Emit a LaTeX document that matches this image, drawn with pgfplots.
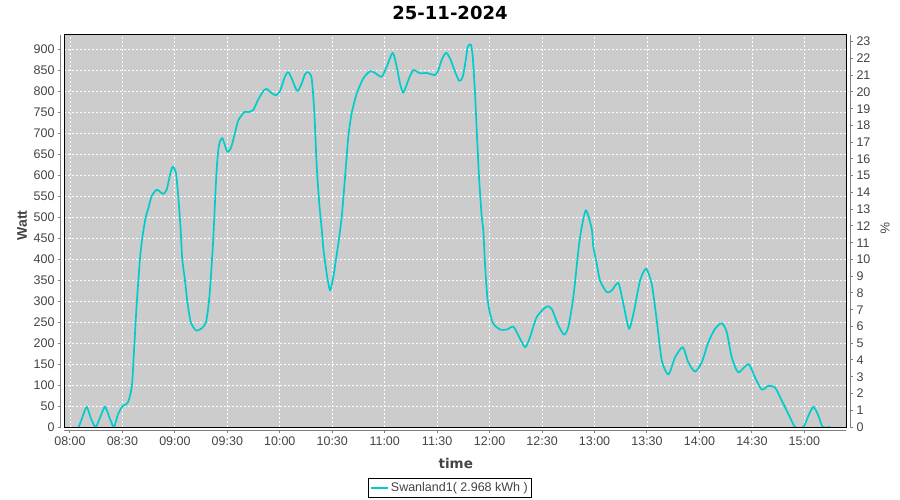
\documentclass[border=0pt]{standalone}
\usepackage{pgfplots}
\pgfplotsset{compat=1.18}
\usepackage{fontspec}
\setmainfont{Liberation Sans}
\newfontfamily\dejavu{DejaVu Sans}
\definecolor{bgc}{RGB}{204,204,204}
\definecolor{linec}{RGB}{0,204,204}
\definecolor{tickc}{RGB}{68,68,68}
\definecolor{axc}{RGB}{128,128,128}
\begin{document}
\begin{tikzpicture}
\useasboundingbox (-64bp,-73bp) rectangle (836bp,427bp);
\pgfplotsset{
  common/.style={
    at={(0,0)}, anchor=south west,
    scale only axis, width=782bp, height=392bp,
    xmin=7.943, xmax=15.397,
    axis line style={axc, line width=1bp, -},
    tick style={axc, line width=1bp},
    major tick length=3bp,
    tick align=outside,
    ticklabel style={font=\fontsize{12.5bp}{15bp}\selectfont, text=tickc},
    /pgf/number format/assume math mode=true,
  }
}
\begin{axis}[common,
  ymin=0, ymax=933.4,
  axis background/.style={fill=bgc},
  axis x line*=bottom, axis y line*=left,
  axis x line shift=3bp, axis y line shift=3bp,
  xtick={8,8.5,9,9.5,10,10.5,11,11.5,12,12.5,13,13.5,14,14.5,15},
  xticklabels={08:00,08:30,09:00,09:30,10:00,10:30,11:00,11:30,12:00,12:30,13:00,13:30,14:00,14:30,15:00},
  ytick={0,50,...,900},
  grid=major,
  major grid style={white, line width=0.8bp, dash pattern=on 2bp off 2bp},
  xlabel={time}, ylabel={Watt},
  xlabel style={font=\dejavu\fontsize{13.5bp}{16bp}\selectfont\bfseries, text=tickc, at={(axis description cs:0.501,-0.094)}, anchor=center},
  ylabel style={font=\fontsize{14bp}{16bp}\selectfont\bfseries, text=tickc, at={(axis description cs:-0.0537,0.514)}, anchor=center},
  title={25-11-2024},
  title style={font=\dejavu\fontsize{18bp}{21bp}\selectfont\bfseries, at={(axis description cs:0.4936,1.040)}, anchor=center},
  legend style={at={(axis description cs:0.4936,-0.1556)}, anchor=center, draw=black, line width=1bp, fill=white,
     font=\fontsize{12.5bp}{14bp}\selectfont, inner sep=2.2bp, text=tickc},
  legend cell align=left,
]
\addplot[linec, line width=1.7bp, line join=round, smooth, tension=0.4] coordinates {
(8.083,0) (8.114,20) (8.159,48) (8.200,20) (8.245,0) (8.286,22) (8.334,48) (8.377,22) (8.419,0)
(8.457,30) (8.502,50) (8.541,55) (8.562,65) (8.591,100) (8.610,180) (8.626,250) (8.638,300)
(8.667,400) (8.689,450) (8.722,500) (8.746,520) (8.779,550) (8.827,565) (8.858,560) (8.889,555)
(8.922,565) (8.953,600) (8.979,620) (9.010,605) (9.032,550) (9.055,470) (9.070,400) (9.096,350)
(9.118,300) (9.151,250) (9.201,230) (9.256,235) (9.297,250) (9.325,300) (9.341,350) (9.366,450)
(9.395,600) (9.414,660) (9.430,680) (9.452,688) (9.478,670) (9.503,655) (9.535,665) (9.573,700)
(9.604,730) (9.662,750) (9.700,750) (9.747,755) (9.795,780) (9.843,800) (9.875,805) (9.923,795)
(9.964,790) (10.002,800) (10.050,835) (10.081,845) (10.113,830) (10.167,800) (10.212,820)
(10.240,840) (10.272,845) (10.304,830) (10.329,750) (10.352,620) (10.377,530) (10.400,470)
(10.415,425) (10.434,389) (10.450,360) (10.479,325) (10.510,357) (10.536,400) (10.558,437)
(10.590,500) (10.622,595) (10.653,691) (10.685,747) (10.733,794) (10.796,830) (10.860,847)
(10.908,843) (10.971,834) (11.019,858) (11.076,891) (11.114,858) (11.146,818) (11.177,796)
(11.225,826) (11.273,850) (11.336,842) (11.400,843) (11.479,838) (11.511,850) (11.543,874)
(11.584,891) (11.622,878) (11.670,846) (11.711,824) (11.744,834) (11.775,878) (11.791,905)
(11.820,911) (11.839,882) (11.861,794) (11.877,707) (11.899,595) (11.925,500) (11.940,468)
(11.956,389) (11.978,309) (12.004,270) (12.035,246) (12.099,232) (12.163,232) (12.226,239)
(12.274,218) (12.338,190) (12.385,214) (12.449,262) (12.544,287) (12.592,281) (12.655,242)
(12.709,220) (12.750,238) (12.798,309) (12.846,421) (12.878,476) (12.919,516) (12.973,472)
(12.989,428) (13.021,389) (13.052,349) (13.116,321) (13.164,325) (13.227,343) (13.275,293)
(13.329,234) (13.377,277) (13.434,349) (13.491,377) (13.545,341) (13.593,254) (13.641,158)
(13.704,125) (13.768,166) (13.841,190) (13.894,154) (13.958,132) (14.022,154) (14.085,202)
(14.149,234) (14.213,247) (14.260,226) (14.308,166) (14.371,130) (14.466,150) (14.530,118)
(14.594,89) (14.657,98) (14.721,94) (14.784,63) (14.848,31) (14.911,0) (14.991,0) (15.039,27)
(15.086,48) (15.134,27) (15.175,0) (15.245,0)
};
\addlegendentry{Swanland1( 2.968 kWh )}
\end{axis}
\begin{axis}[common,
  ymin=0, ymax=23.4,
  axis x line=none, axis y line*=right,
  axis y line shift=4bp,
  ytick={0,1,...,23},
  ylabel={\%},
  ylabel style={font=\fontsize{13bp}{15bp}\selectfont, text=tickc, at={(axis description cs:1.0499,0.508)}, anchor=center, rotate=180},
]
\addplot[draw=none] coordinates {(8,0)};
\end{axis}
\draw[black, line width=1bp] (0,0) rectangle (782bp,392bp);
\end{tikzpicture}
\end{document}
